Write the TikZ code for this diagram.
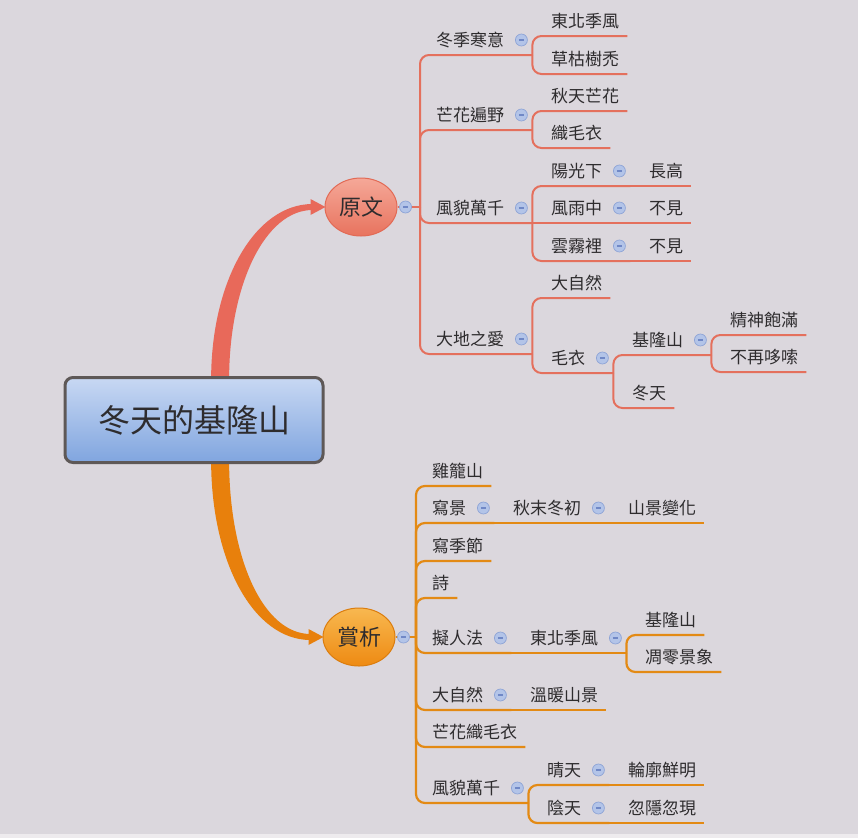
\documentclass[tikz,border=0pt]{standalone}
\usepackage{fontspec}
\setmainfont{Noto Sans CJK TC}
\usepackage{xcolor}
\usetikzlibrary{calc,shapes.geometric}
\pgfdeclarelayer{bg}
\pgfsetlayers{bg,main}

\definecolor{bgc}{HTML}{DBD7DD}
\definecolor{bgl}{HTML}{EEEBEE}
\definecolor{txt}{HTML}{2E2C2E}
\definecolor{redl}{HTML}{E4705D}
\definecolor{orl}{HTML}{E38A14}
\definecolor{redband}{HTML}{E8695A}
\definecolor{orband}{HTML}{E8800C}
\definecolor{foldf}{HTML}{B3C4E8}
\definecolor{foldb}{HTML}{8EA4D6}
\definecolor{foldm}{HTML}{7088C6}
\newcommand{\tpfont}{\fontsize{17pt}{20pt}\selectfont}

\tikzset{
  tp/.style={anchor=south west, inner sep=0pt, text depth=8.5pt, text=txt, font=\tpfont},
  top1/.style={tp, execute at begin node={\hspace*{16pt}}},
  sub/.style={tp, execute at begin node={\hspace*{19pt}}},
  leaf/.style={execute at end node={\hspace*{8pt}}},
  fork/.style={execute at end node={\hspace*{28pt}}},
  rl/.style={draw=redl, line width=2pt, rounded corners=9pt},
  ol/.style={draw=orl, line width=2.2pt, rounded corners=9pt},
  fold/.style={circle, draw=foldb, fill=foldf, line width=0.7pt, minimum size=12pt, inner sep=0pt,
    path picture={\draw[foldm, line width=1.3pt] ([xshift=3.5pt]path picture bounding box.west) -- ([xshift=-3.5pt]path picture bounding box.east);}},
}

\begin{document}
\begin{tikzpicture}[
  x=1pt, y=-1pt,
  rootbox/.style={rectangle, rounded corners=8pt, minimum width=258pt, minimum height=85pt,
    line width=3pt, draw={rgb,255:red,94;green,88;blue,87}, top color={rgb,255:red,200;green,216;blue,243},
    bottom color={rgb,255:red,128;green,165;blue,223}, text=txt, font=\fontsize{32pt}{38pt}\selectfont},
  mainel/.style={ellipse, minimum width=72pt, minimum height=58pt, inner sep=0pt, line width=1pt,
    text=txt, font=\fontsize{22pt}{26pt}\selectfont},
]
  \begin{pgfonlayer}{bg}
    \fill[bgl] (0,0) rectangle (858,838);
    \fill[bgc] (0,0) rectangle (858,834);
  \end{pgfonlayer}
  \useasboundingbox (0,0) rectangle (858,838);

  % central topic and main branches
  \node[rootbox] (root) at (194,420) {冬天的基隆山};
  \node[mainel, draw={rgb,255:red,226;green,106;blue,85}, top color={rgb,255:red,245;green,168;blue,152},
    bottom color={rgb,255:red,232;green,115;blue,94}] (yw) at (361,207) {原文};
  \node[mainel, draw={rgb,255:red,219;green,125;blue,14}, top color={rgb,255:red,248;green,184;blue,80},
    bottom color={rgb,255:red,238;green,138;blue,18}] (sx) at (359,637) {賞析};

  \coordinate (rs) at ($(root.north west)!0.6!(root.north east)$);
  \coordinate (re) at ($(yw.west)+(-12,0)$);
  \coordinate (os) at ($(root.south west)!0.6!(root.south east)$);
  \coordinate (oe) at ($(sx.west)+(-12,0)$);
  \begin{pgfonlayer}{bg}
    \fill[redband] ($(rs)+(-9,4)$) .. controls ($(rs)+(-9,-96)$) and ($(re)+(-57,-3)$) .. ($(re)+(0,-3)$)
      -- ($(re)+(0,3)$) .. controls ($(re)+(-47,3)$) and ($(rs)+(9,-92)$) .. ($(rs)+(9,4)$) -- cycle;
    \fill[redband] ($(re)+(-2,-8)$) -- ($(re)+(13,0)$) -- ($(re)+(-2,8)$) -- cycle;
    \fill[orband] ($(os)+(-9,-4)$) .. controls ($(os)+(-9,98)$) and ($(oe)+(-57,3)$) .. ($(oe)+(0,3)$)
      -- ($(oe)+(0,-3)$) .. controls ($(oe)+(-47,-3)$) and ($(os)+(9,95)$) .. ($(os)+(9,-4)$) -- cycle;
    \fill[orband] ($(oe)+(-2,-8)$) -- ($(oe)+(13,0)$) -- ($(oe)+(-2,8)$) -- cycle;
  \end{pgfonlayer}

  % 原文
  \coordinate (yj) at (420,207);
  \node[top1, fork] (dj) at (420,55)  {冬季寒意};
  \node[sub, leaf] (dj1) at (532,36)  {東北季風};
  \node[sub, leaf] (dj2) at (532,74)  {草枯樹禿};
  \node[top1, fork] (mh) at (420,130) {芒花遍野};
  \node[sub, leaf] (mh1) at (532,111) {秋天芒花};
  \node[sub, leaf] (mh2) at (532,148) {織毛衣};
  \node[top1, fork] (fm) at (420,223) {風貌萬千};
  \node[sub, fork] (fm1) at (532,186) {陽光下};
  \node[sub, fork] (fm2) at (532,223) {風雨中};
  \node[sub, fork] (fm3) at (532,261) {雲霧裡};
  \node[sub, leaf] (fmx1) at (630,186) {長高};
  \node[sub, leaf] (fmx2) at (630,223) {不見};
  \node[sub, leaf] (fmx3) at (630,261) {不見};
  \node[top1, fork] (dd) at (420,354) {大地之愛};
  \node[sub, leaf] (dd1) at (532,298) {大自然};
  \node[sub, fork] (dd2) at (532,373) {毛衣};
  \node[sub, fork] (dd2a) at (613,355) {基隆山};
  \node[sub, leaf] (dd2b) at (613,408) {冬天};
  \node[sub, leaf] (dd2aa) at (711,335) {精神飽滿};
  \node[sub, leaf] (dd2ab) at (711,372) {不再哆嗦};

  \draw[rl] (yw.east) -- (yj);
  \foreach \n in {dj,mh,fm,dd} \draw[rl] (yj) |- (\n.south east);
  \foreach \n in {dj1,dj2} \draw[rl] (dj.south east) |- (\n.south east);
  \foreach \n in {mh1,mh2} \draw[rl] (mh.south east) |- (\n.south east);
  \foreach \n in {fm1,fm3} \draw[rl] (fm.south east) |- (\n.south east);
  \draw[rl] (fm.south east) -- (fm2.south east);
  \foreach \n in {1,2,3} \draw[rl] (fm\n.south east) -- (fmx\n.south east);
  \foreach \n in {dd1,dd2} \draw[rl] (dd.south east) |- (\n.south east);
  \foreach \n in {dd2a,dd2b} \draw[rl] (dd2.south east) |- (\n.south east);
  \foreach \n in {dd2aa,dd2ab} \draw[rl] (dd2a.south east) |- (\n.south east);

  % 賞析
  \coordinate (sj) at (416,637);
  \node[top1, leaf] (jl) at (416,486) {雞籠山};
  \node[top1, fork] (xj) at (416,523) {寫景};
  \node[sub, fork] (xj1) at (494,523) {秋末冬初};
  \node[sub, leaf] (xj1a) at (609,523) {山景變化};
  \node[top1, leaf] (xs) at (416,561) {寫季節};
  \node[top1, leaf] (sh) at (416,598) {詩};
  \node[top1, fork] (nr) at (416,653) {擬人法};
  \node[sub, fork] (nr1) at (511,653) {東北季風};
  \node[sub, leaf] (nr1a) at (626,635) {基隆山};
  \node[sub, leaf] (nr1b) at (626,672) {凋零景象};
  \node[top1, fork] (dz) at (416,710) {大自然};
  \node[sub, leaf] (dz1) at (511,710) {溫暖山景};
  \node[top1, leaf] (mz) at (416,747) {芒花織毛衣};
  \node[top1, fork] (fg) at (416,803) {風貌萬千};
  \node[sub, fork] (fg1) at (528,785) {晴天};
  \node[sub, fork] (fg2) at (528,823) {陰天};
  \node[sub, leaf] (fg1a) at (609,785) {輪廓鮮明};
  \node[sub, leaf] (fg2a) at (609,823) {忽隱忽現};

  \draw[ol] (sx.east) -- (sj);
  \foreach \n in {jl,xj,xs,sh,nr,dz,mz,fg} \draw[ol] (sj) |- (\n.south east);
  \draw[ol] (xj.south east) -- (xj1.south east) -- (xj1a.south east);
  \draw[ol] (nr.south east) -- (nr1.south east);
  \foreach \n in {nr1a,nr1b} \draw[ol] (nr1.south east) |- (\n.south east);
  \draw[ol] (dz.south east) -- (dz1.south east);
  \foreach \n in {fg1,fg2} \draw[ol] (fg.south east) |- (\n.south east);
  \draw[ol] (fg1.south east) -- (fg1a.south east);
  \draw[ol] (fg2.south east) -- (fg2a.south east);

  % collapse buttons
  \node[fold] (c-yw) at ($(yw.east)+(8,0)$) {};
  \node[fold] (c-sx) at ($(sx.east)+(8,0)$) {};
  \foreach \n in {dj,mh,fm,fm1,fm2,fm3,dd,dd2,dd2a,xj,xj1,nr,nr1,dz,fg,fg1,fg2}
    \node[fold] (c-\n) at ($(\n.south east)+(-11,-15)$) {};
\end{tikzpicture}
\end{document}
